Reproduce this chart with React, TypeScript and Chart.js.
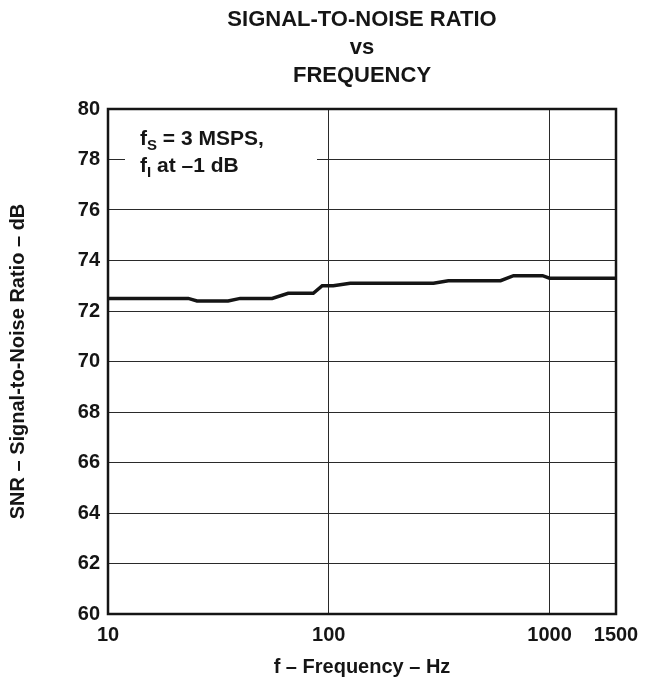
import React, { useEffect, useRef } from "react";
import { Chart, registerables } from "chart.js";

Chart.register(...registerables);

// Data
const frequencies = [10, 23.1, 25.3, 35, 39.7, 55.4, 65.5, 85.1, 93.4, 104.8, 125, 298, 348, 600, 687, 930, 1000, 2000];
const snrValues = [72.5, 72.5, 72.4, 72.4, 72.5, 72.5, 72.7, 72.7, 73.0, 73.0, 73.1, 73.1, 73.2, 73.2, 73.4, 73.4, 73.3, 73.3];
const xTickValues = [10, 100, 1000, 2000];
const xTickLabels = ["10", "100", "1000", "1500"];
const titleLines = ["SIGNAL-TO-NOISE RATIO", "vs", "FREQUENCY"];
const xAxisTitle = "f \u2013 Frequency \u2013 Hz";
const yAxisTitle = "SNR \u2013 Signal-to-Noise Ratio \u2013 dB";

const FAMILY = "'Liberation Sans', Arial, Helvetica, sans-serif";
const INK = "#151515";

const decorPlugin = {
  id: "decor",
  beforeDatasetsDraw(chart: any) {
    const { ctx, chartArea } = chart;
    const { left, top } = chartArea;
    ctx.save();
    // white box behind the annotation
    ctx.fillStyle = "#ffffff";
    ctx.fillRect(left + 17, top + 14, 192, 62);
    ctx.fillStyle = INK;
    ctx.textBaseline = "alphabetic";
    ctx.textAlign = "left";
    const drawSub = (x: number, y: number, main: string, sub: string, rest: string) => {
      ctx.font = `bold 21px ${FAMILY}`;
      ctx.fillText(main, x, y);
      let cx = x + ctx.measureText(main).width;
      ctx.font = `bold 15px ${FAMILY}`;
      ctx.fillText(sub, cx, y + 5);
      cx += ctx.measureText(sub).width;
      ctx.font = `bold 21px ${FAMILY}`;
      ctx.fillText(rest, cx, y);
    };
    drawSub(left + 32, top + 36, "f", "S", " = 3 MSPS,");
    drawSub(left + 32, top + 63, "f", "I", " at \u20131 dB");
    ctx.restore();
  },
  afterDraw(chart: any) {
    const { ctx, chartArea } = chart;
    const { left, right, top, bottom } = chartArea;
    const cx = (left + right) / 2;
    ctx.save();
    ctx.strokeStyle = INK;
    ctx.lineWidth = 2.5;
    ctx.strokeRect(left, top, right - left, bottom - top);

    ctx.fillStyle = INK;
    ctx.textAlign = "center";
    ctx.textBaseline = "alphabetic";
    ctx.font = `bold 22px ${FAMILY}`;
    const baselines = [26, 54, 82];
    titleLines.forEach((t, i) => ctx.fillText(t, cx, baselines[i]));

    ctx.font = `bold 20px ${FAMILY}`;
    ctx.fillText(xAxisTitle, cx, 673);

    ctx.translate(18, (top + bottom) / 2);
    ctx.rotate(-Math.PI / 2);
    ctx.textBaseline = "middle";
    ctx.fillText(yAxisTitle, 0, 0);
    ctx.restore();
  },
};

export default function App() {
  const ref = useRef<HTMLCanvasElement | null>(null);
  useEffect(() => {
    if (!ref.current) return;
    const tickFont = { family: FAMILY, size: 20, weight: "bold" as const };
    const chart = new Chart(ref.current, {
      type: "line",
      data: {
        datasets: [
          {
            data: frequencies.map((f, i) => ({ x: f, y: snrValues[i] })),
            borderColor: INK,
            borderWidth: 3.5,
            pointRadius: 0,
            tension: 0,
            fill: false,
          },
        ],
      },
      options: {
        responsive: false,
        animation: false,
        layout: { padding: { top: 109, right: 39, left: 0, bottom: 0 } },
        plugins: { legend: { display: false }, tooltip: { enabled: false }, title: { display: false } },
        scales: {
          x: {
            type: "logarithmic",
            min: 10,
            max: 2000,
            afterBuildTicks: (s: any) => {
              s.ticks = xTickValues.map((v) => ({ value: v }));
            },
            afterFit: (s: any) => {
              s.height = 69;
            },
            ticks: {
              autoSkip: false,
              maxRotation: 0,
              padding: 9,
              color: INK,
              font: tickFont,
              callback: (_v: any, i: number) => xTickLabels[i],
            },
            grid: { color: "#2a2a2a", lineWidth: 1, drawTicks: false },
            border: { display: false },
          },
          y: {
            type: "linear",
            min: 60,
            max: 80,
            afterFit: (s: any) => {
              s.width = 108;
            },
            ticks: { stepSize: 2, padding: 8, color: INK, font: tickFont },
            grid: { color: "#2a2a2a", lineWidth: 1, drawTicks: false },
            border: { display: false },
          },
        },
      },
      plugins: [decorPlugin],
    });
    return () => chart.destroy();
  }, []);
  return (
    <div style={{ position: "fixed", left: 0, top: 0, width: 655, height: 683, background: "#fff" }}>
      <canvas ref={ref} width={655} height={683} style={{ display: "block", width: 655, height: 683 }} />
    </div>
  );
}
